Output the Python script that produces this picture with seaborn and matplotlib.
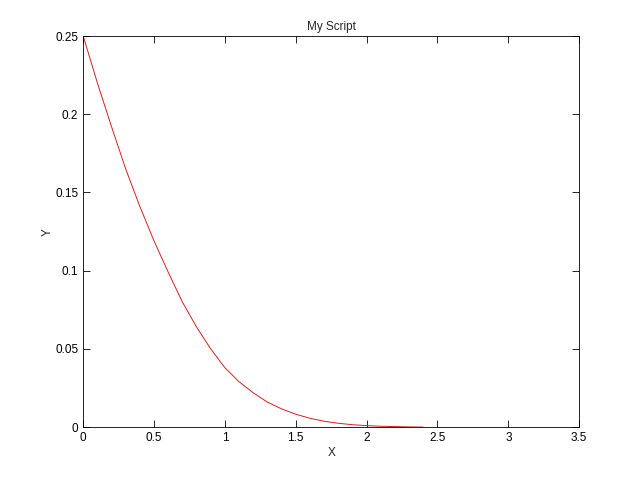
import matplotlib
matplotlib.use('Agg')
import matplotlib.pyplot as plt
import seaborn as sns
import pandas as pd

# values
x_vals = [0.0, 0.1, 0.2, 0.3, 0.4, 0.5, 0.6, 0.7, 0.8, 0.9, 1.0, 1.1, 1.2,
          1.3, 1.4, 1.5, 1.6, 1.7, 1.8, 1.9, 2.0, 2.1, 2.2, 2.3, 2.4]
y_vals = [0.250, 0.220, 0.192, 0.165, 0.141, 0.119, 0.099, 0.080, 0.064,
          0.050, 0.038, 0.029, 0.022, 0.016, 0.0117, 0.0083, 0.0057, 0.0038,
          0.0025, 0.0016, 0.0010, 0.0006, 0.0004, 0.0002, 0.0001]
x_ticks = [0, 0.5, 1, 1.5, 2, 2.5, 3, 3.5]
y_ticks = [0, 0.05, 0.1, 0.15, 0.2, 0.25]

df = pd.DataFrame({'X': x_vals, 'Y': y_vals})

sns.set_style('white')
plt.rcParams['font.family'] = ['Liberation Sans', 'DejaVu Sans']

fig = plt.figure(figsize=(6.4, 4.8), dpi=100)
ax = fig.add_axes([0.13, 0.11, 0.775, 0.815])
sns.lineplot(data=df, x='X', y='Y', color='#d42020', linewidth=0.7, ax=ax)

ax.set_xlim(0, 3.5)
ax.set_ylim(0, 0.25)
ax.set_xticks(x_ticks)
ax.set_xticklabels(['0', '0.5', '1', '1.5', '2', '2.5', '3', '3.5'])
ax.set_yticks(y_ticks)
ax.set_yticklabels(['0', '0.05', '0.1', '0.15', '0.2', '0.25'])
ax.tick_params(direction='in', length=5, width=0.6, labelsize=8.5,
               top=True, right=True, bottom=True, left=True, colors='black')
for s in ax.spines.values():
    s.set_linewidth(0.6)
    s.set_color('black')

ax.set_title('My Script', fontsize=8.5, pad=4.5)
ax.set_xlabel('X', fontsize=8.5, labelpad=2)
ax.set_ylabel('Y', fontsize=8.5, labelpad=1)

fig.savefig('out.png', dpi=100)
